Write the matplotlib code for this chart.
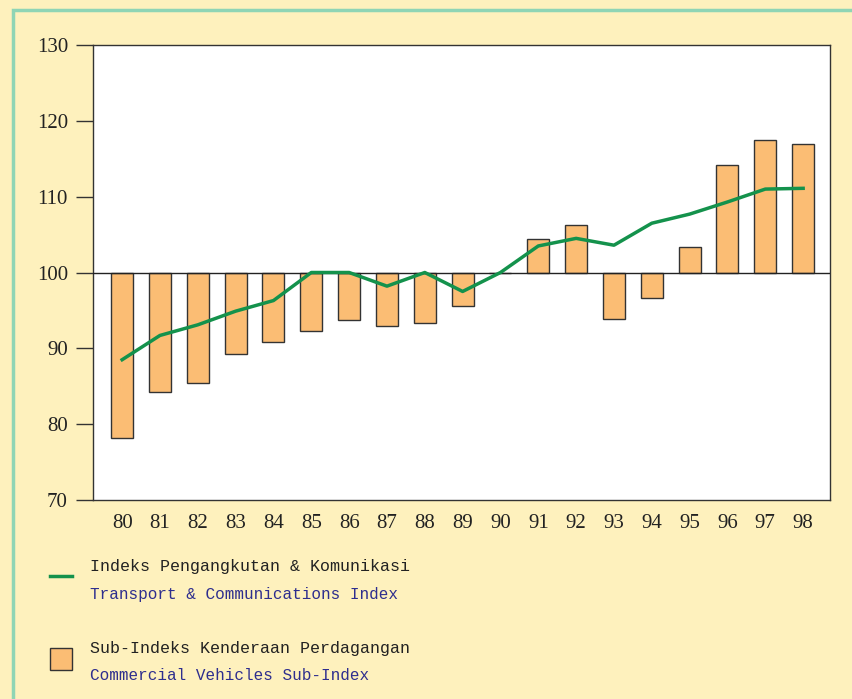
import matplotlib as mpl
mpl.use('Agg')
import matplotlib.pyplot as plt
from matplotlib.patches import Rectangle
from matplotlib.lines import Line2D
import numpy as np

years = ['80', '81', '82', '83', '84', '85', '86', '87', '88', '89',
         '90', '91', '92', '93', '94', '95', '96', '97', '98']
# Commercial Vehicles Sub-Index (bars, base 100)
vehicles = [78.2, 84.2, 85.4, 89.2, 90.8, 92.3, 93.7, 92.9, 93.3, 95.6,
            100.0, 104.4, 106.2, 93.9, 96.6, 103.3, 114.2, 117.5, 116.9]
# Transport & Communications Index (line)
transport = [88.5, 91.7, 93.1, 94.9, 96.3, 100.0, 100.0, 98.2, 100.0, 97.5,
             100.0, 103.5, 104.5, 103.6, 106.5, 107.7, 109.3, 111.0, 111.1]

bg = '#fef1bd'
green = '#14924c'
orange = '#fbbd74'
navy = '#2e2e8e'

fig = plt.figure(figsize=(8.52, 6.99), dpi=100, facecolor=bg)
W, H = 852.0, 699.0

# light green frame on the left/top
fig.patches.append(Rectangle((13 / W, -0.1), 1.2, 1 - 10 / H + 0.1,
                             transform=fig.transFigure, fill=False,
                             edgecolor='#8fd5b5', linewidth=2.5, zorder=0))

ax = fig.add_axes([93 / W, 1 - 500 / H, (830 - 93) / W, (500 - 45) / H])
ax.set_facecolor('white')

x = np.arange(len(years))
base = 100
heights = [v - base for v in vehicles]
ax.bar(x, heights, bottom=base, width=0.58, color=orange,
       edgecolor='#333333', linewidth=1.0, zorder=2)
ax.axhline(base, color='#222222', linewidth=1.0, zorder=3)
ax.plot(x, transport, color=green, linewidth=2.5, zorder=4)

ax.set_xlim(-0.77, 18.71)
ax.set_ylim(70, 130)
ax.set_yticks([70, 80, 90, 100, 110, 120, 130])
ax.set_xticks(x)
ax.set_xticklabels(years)
for lab in ax.get_xticklabels() + ax.get_yticklabels():
    lab.set_fontfamily('Liberation Serif')
    lab.set_fontsize(15)
    lab.set_color('#222222')
ax.tick_params(axis='y', length=12, width=1, color='#333333', pad=6)
ax.tick_params(axis='x', length=0, pad=10)
for s in ax.spines.values():
    s.set_color('#333333')
    s.set_linewidth(1)

# legend drawn by hand under the chart
fig.add_artist(Line2D([50 / W, 72 / W], [1 - 576 / H, 1 - 576 / H],
                      color=green, linewidth=2.5, transform=fig.transFigure))
fig.patches.append(Rectangle((50 / W, 1 - 670 / H), 22 / W, 22 / H,
                             transform=fig.transFigure, facecolor=orange,
                             edgecolor='#333333', linewidth=1))
mono = 'Liberation Mono'
fig.text(90 / W, 1 - 567 / H, 'Indeks Pengangkutan & Komunikasi',
         family=mono, fontsize=12, color='#222222', va='center')
fig.text(90 / W, 1 - 595 / H, 'Transport & Communications Index',
         family=mono, fontsize=11.5, color=navy, va='center')
fig.text(90 / W, 1 - 648 / H, 'Sub-Indeks Kenderaan Perdagangan',
         family=mono, fontsize=12, color='#222222', va='center')
fig.text(90 / W, 1 - 675 / H, 'Commercial Vehicles Sub-Index',
         family=mono, fontsize=11.5, color=navy, va='center')

fig.savefig('out.png', dpi=100, facecolor=bg)
